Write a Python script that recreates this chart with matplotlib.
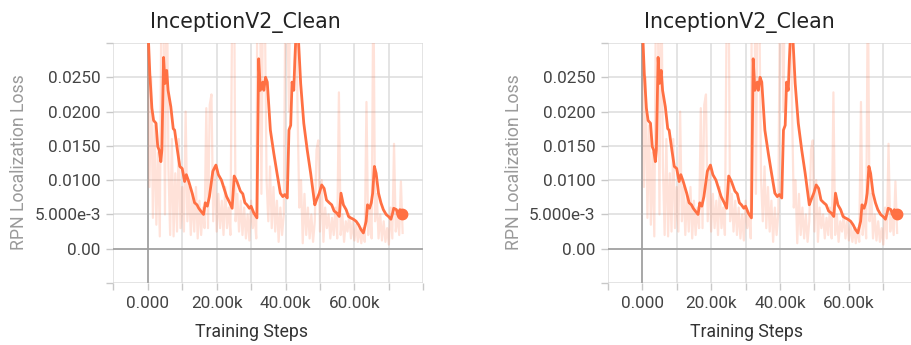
import matplotlib
matplotlib.use("Agg")
import matplotlib.pyplot as plt

# ---------------- data ----------------
title_text = "InceptionV2_Clean"
x_label = "Training Steps"
y_label = "RPN Localization Loss"

x_ticks = [-10000, 0, 10000, 20000, 30000, 40000, 50000, 60000, 70000, 80000]
x_tick_labels = ["", "0.000", "", "20.00k", "", "40.00k", "", "60.00k", "", ""]
y_ticks = [-0.005, 0.0, 0.005, 0.010, 0.015, 0.020, 0.025, 0.030]
y_tick_labels = ["", "0.00", "5.000e-3", "0.0100", "0.0150", "0.0200", "0.0250", ""]

# smoothed curve (steps in thousands, loss in 1e-3)
smooth_steps_k = [0.0, 0.6, 1.2, 1.7, 2.4, 2.9, 3.3, 3.8, 4.1, 4.6, 5.0, 5.5, 5.9, 6.7, 7.4,
                  7.8, 8.6, 9.3, 10.0, 10.7, 11.2, 11.9, 12.9, 13.6, 14.3, 14.8, 15.4, 16.2,
                  16.7, 17.3, 17.9, 18.9, 19.8, 20.5, 21.4, 22.9, 23.8, 24.5, 25.1, 25.9,
                  26.9, 27.6, 28.2, 28.8, 29.5, 30.0, 30.8, 31.7, 32.2, 32.7, 33.4, 33.7,
                  34.2, 34.7, 35.6, 36.6, 37.6, 38.5, 39.2, 39.8, 40.5, 41.0, 41.5, 41.9,
                  42.4, 42.7, 43.1, 43.7, 44.4, 45.3, 46.3, 47.3, 48.5, 49.0, 49.8, 50.5,
                  51.2, 51.9, 52.7, 53.4, 54.1, 54.9, 55.6, 56.1, 56.8, 57.6, 58.3, 58.9,
                  59.7, 60.5, 61.2, 61.9, 62.6, 63.4, 63.8, 64.4, 64.9, 65.3, 65.8, 66.3,
                  67.0, 67.7, 68.4, 69.2, 69.9, 70.6, 71.1, 71.4, 72.2, 72.6, 73.2, 73.9]
smooth_vals_m = [33.0, 25.5, 20.5, 18.7, 18.3, 14.9, 14.4, 12.7, 14.4, 27.9, 24.1, 26.0, 23.1,
                 20.7, 17.5, 17.3, 14.4, 12.0, 11.7, 9.8, 10.8, 9.8, 8.1, 6.7, 6.4, 5.9, 5.5,
                 5.0, 6.7, 6.2, 7.6, 11.3, 12.2, 10.8, 10.0, 7.6, 6.7, 5.9, 10.6, 9.8, 8.4,
                 8.0, 6.7, 6.4, 5.9, 6.2, 5.2, 4.5, 27.7, 23.1, 24.3, 23.1, 25.0, 24.3, 17.3,
                 13.9, 10.8, 8.1, 7.6, 7.9, 7.4, 17.3, 18.0, 24.3, 23.1, 27.4, 32.0, 31.0,
                 24.1, 18.3, 14.4, 11.0, 6.4, 7.1, 8.1, 9.3, 8.8, 7.1, 6.7, 6.4, 5.5, 5.2,
                 4.7, 8.1, 6.4, 5.7, 4.7, 4.5, 4.3, 4.0, 3.5, 2.8, 2.3, 4.0, 6.4, 5.9, 6.7,
                 8.1, 12.0, 11.0, 8.1, 6.7, 5.7, 5.0, 4.7, 4.3, 5.2, 5.9, 5.7, 5.0, 5.7, 5.1]

# raw (unsmoothed) values, steps in thousands, loss in 1e-3
raw_steps_k = [0.0, 0.5, 1.0, 1.5, 2.0, 2.5, 3.0, 3.5, 4.0, 4.5, 5.0, 5.5, 6.0, 6.5, 7.0, 7.5,
               8.0, 8.5, 9.0, 9.5, 10.0, 10.5, 11.0, 11.5, 12.0, 12.5, 13.0, 13.5, 14.0, 14.5,
               15.0, 15.5, 16.0, 16.5, 17.0, 17.5, 18.0, 18.5, 19.0, 19.5, 20.0, 20.5, 21.0,
               21.5, 22.0, 22.5, 23.0, 23.5, 24.0, 24.5, 25.0, 25.5, 26.0, 26.5, 27.0, 27.5,
               28.0, 28.5, 29.0, 29.5, 30.0, 30.5, 31.0, 31.5, 32.0, 32.5, 33.0, 33.5, 34.0,
               34.5, 35.0, 35.5, 36.0, 36.5, 37.0, 37.5, 38.0, 38.5, 39.0, 39.5, 40.0, 40.5,
               41.0, 41.5, 42.0, 42.5, 43.0, 43.5, 44.0, 44.5, 45.0, 45.5, 46.0, 46.5, 47.0,
               47.5, 48.0, 48.5, 49.0, 49.5, 50.0, 50.5, 51.0, 51.5, 52.0, 52.5, 53.0, 53.5,
               54.0, 54.5, 55.0, 55.5, 56.0, 56.5, 57.0, 57.5, 58.0, 58.5, 59.0, 59.5, 60.0,
               60.5, 61.0, 61.5, 62.0, 62.5, 63.0, 63.5, 64.0, 64.5, 65.0, 65.5, 66.0, 66.5,
               67.0, 67.5, 68.0, 68.5, 69.0, 69.5, 70.0, 70.5, 71.0, 71.5, 72.0, 72.5, 73.0,
               73.5, 74.0]
raw_vals_m = [45, 9, 25, 4.5, 18, 3.5, 14, 1.8, 40, 38, 5, 45, 12, 2.0, 16, 1.8, 11, 2.5, 16,
              3, 9, 2.5, 20, 4, 9, 2, 8, 2.5, 9, 1.5, 7, 2, 6, 3, 20.5, 3, 21, 22.5, 4, 12,
              2.5, 8, 3, 7, 2, 9, 3, 6, 2, 35, 45, 4, 8, 2.5, 7, 2, 6, 1.5, 5, 1.2, 7, 3, 5,
              1.5, 60, 45, 8, 40, 35, 10, 4, 12, 3, 9, 2.5, 7, 1.0, 6, 2, 5, 40, 35, 20, 45,
              38, 50, 40, 20, 6, 10, 0.8, 8, 2, 6, 1.5, 5, 1, 4, 14.4, 15.8, 2.5, 10, 1, 6,
              3, 5, 1.5, 4.5, 2, 6, 1.5, 22.8, 2, 5, 1, 4, 2.5, 5, 1.5, 4, 1.2, 3.5, 1, 3,
              0.8, 3, 1, 21.4, 2, 6, 1.5, 40, 4, 8, 1.5, 5, 1.2, 4, 1, 3, 0.6, 6, 1.5, 15.3,
              2.5, 5, 2, 9.8, 2.3]

# ---------------- style ----------------
line_color = "#ff7043"
grid_color = "#dcdcdc"
zero_color = "#9e9e9e"

W, H = 911, 345
fig = plt.figure(figsize=(W / 100, H / 100), dpi=100)

ax_w = 310 / W
ax_h = 240 / H
ax_b = 62 / H
lefts = [113.3 / W, 607.8 / W]

sm_x = [s * 1000 for s in smooth_steps_k]
sm_y = [v / 1000 for v in smooth_vals_m]
rw_x = [s * 1000 for s in raw_steps_k]
rw_y = [v / 1000 for v in raw_vals_m]

tick_font = ["Roboto", "DejaVu Sans"]

for left in lefts:
    ax = fig.add_axes([left, ax_b, ax_w, ax_h])
    ax.set_xlim(-10000, 80000)
    ax.set_ylim(-0.005, 0.030)
    ax.set_xticks(x_ticks)
    ax.set_xticklabels(x_tick_labels, family=tick_font)
    ax.set_yticks(y_ticks)
    ax.set_yticklabels(y_tick_labels, family=tick_font)
    ax.grid(True, color=grid_color, lw=1.1)
    ax.set_axisbelow(True)
    for sp in ax.spines.values():
        sp.set_visible(False)
    ax.axhline(0, color=zero_color, lw=1.2, zorder=1)
    ax.axvline(0, color=zero_color, lw=1.2, zorder=1)
    ax.tick_params(length=5, width=1, color="#c8c8c8", labelsize=12.3,
                   labelcolor="#444444", pad=4)

    ax.plot(rw_x, rw_y, color=line_color, alpha=0.2, lw=1.6, zorder=2)
    ax.plot(sm_x, sm_y, color=line_color, lw=2.0, zorder=3)
    ax.plot([sm_x[-1]], [sm_y[-1]], "o", color=line_color, ms=7.5, zorder=4,
            clip_on=False)

    ax.text(0.425, 1.061, title_text, transform=ax.transAxes, ha="center",
            va="baseline", fontsize=14.8, family="DejaVu Sans", color="#222222")
    ax.set_xlabel(x_label, fontsize=12.7, color="#333333", family=tick_font)
    ax.xaxis.set_label_coords(0.446, -0.203)
    ax.xaxis.label.set_va("center")
    ax.set_ylabel(y_label, fontsize=12.7, color="#9a9a9a", family=tick_font)
    ax.yaxis.set_label_coords(-0.303, 0.502)
    ax.yaxis.label.set_va("center")

fig.savefig("out.png", dpi=100, facecolor="white")
